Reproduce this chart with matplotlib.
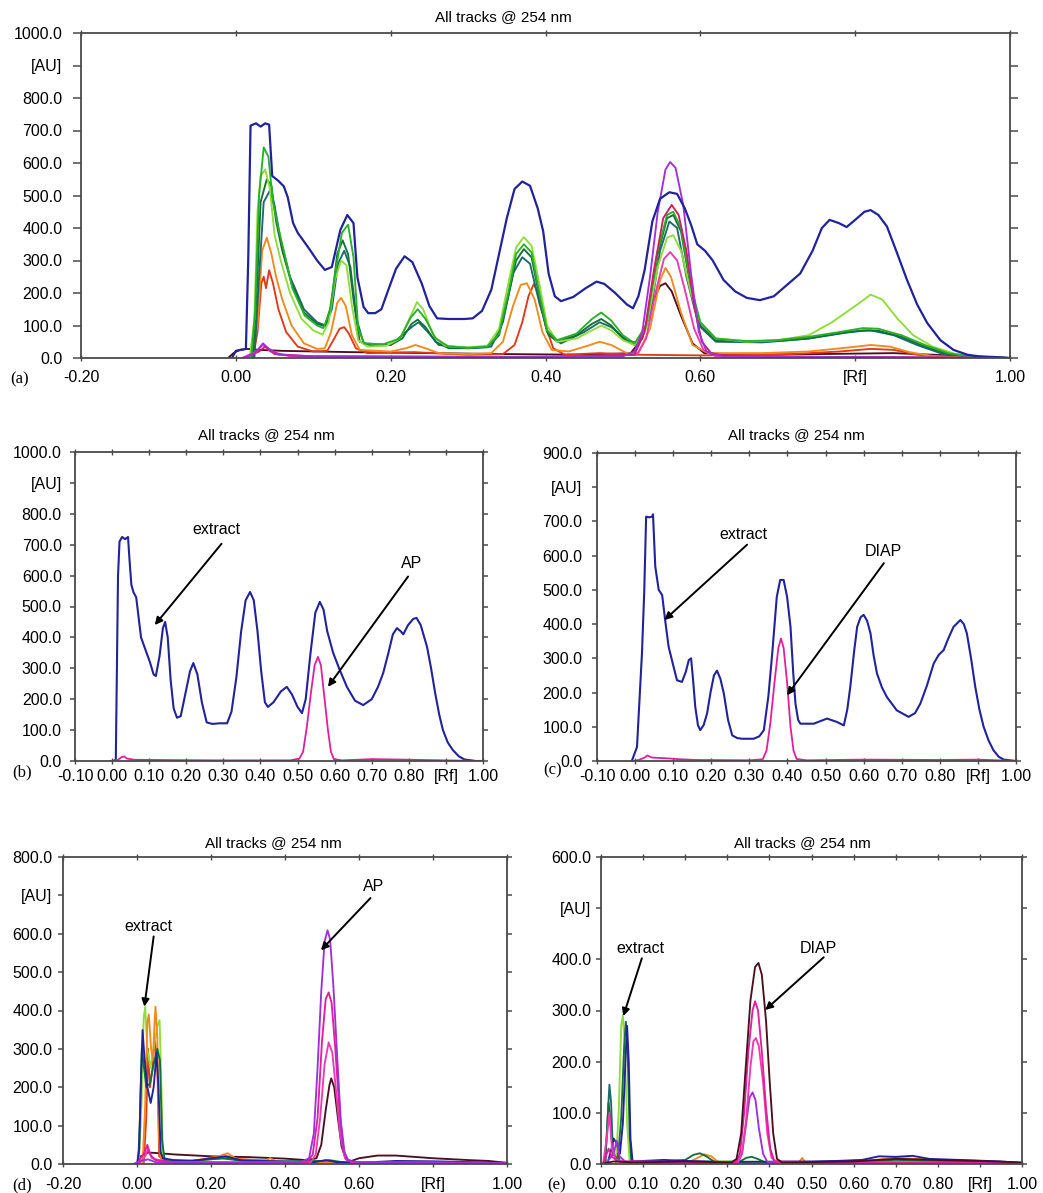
import matplotlib
matplotlib.use("Agg")
import matplotlib.pyplot as plt

plt.rcParams['font.family'] = ['Liberation Sans', 'DejaVu Sans']

# ---------------- data: (Rf, AU) points ----------------
# panel (a): all tracks
a_navy = [(-0.005, 0), (0.000, 22), (0.013, 28), (0.016, 300), (0.019, 715), (0.026, 722), (0.032, 712),
          (0.038, 722), (0.043, 718), (0.047, 560), (0.055, 545), (0.062, 528), (0.067, 495), (0.074, 415),
          (0.080, 385), (0.093, 342), (0.105, 300), (0.115, 271), (0.124, 280), (0.135, 394), (0.144, 440),
          (0.152, 415), (0.157, 249), (0.165, 157), (0.171, 138), (0.180, 138), (0.188, 150), (0.197, 210),
          (0.207, 275), (0.218, 313), (0.228, 295), (0.240, 230), (0.250, 160), (0.260, 122), (0.275, 120),
          (0.295, 120), (0.306, 122), (0.318, 145), (0.330, 210), (0.340, 320), (0.350, 430), (0.360, 520),
          (0.370, 543), (0.380, 530), (0.390, 460), (0.397, 390), (0.404, 260), (0.412, 190), (0.420, 175),
          (0.436, 188), (0.452, 215), (0.466, 235), (0.476, 228), (0.490, 200), (0.505, 165), (0.513, 153),
          (0.520, 190), (0.528, 270), (0.538, 420), (0.548, 490), (0.560, 510), (0.570, 505), (0.580, 460),
          (0.588, 410), (0.596, 350), (0.606, 330), (0.616, 300), (0.630, 240), (0.645, 205), (0.660, 185),
          (0.677, 178), (0.695, 190), (0.712, 225), (0.729, 260), (0.745, 330), (0.757, 400), (0.767, 425),
          (0.779, 415), (0.789, 403), (0.800, 425), (0.812, 450), (0.820, 455), (0.830, 440), (0.841, 405),
          (0.853, 330), (0.867, 240), (0.880, 165), (0.893, 108), (0.910, 55), (0.927, 25), (0.945, 10),
          (0.960, 5), (0.980, 3), (1.000, 0)]
a_lime = [(0.018, 0), (0.024, 120), (0.028, 450), (0.032, 560), (0.038, 580), (0.044, 520), (0.050, 380),
          (0.058, 300), (0.070, 200), (0.085, 120), (0.100, 85), (0.112, 72), (0.120, 110), (0.128, 240),
          (0.136, 300), (0.143, 285), (0.150, 160), (0.158, 55), (0.170, 35), (0.195, 38), (0.212, 60),
          (0.226, 130), (0.234, 172), (0.242, 150), (0.255, 70), (0.270, 38), (0.300, 32), (0.325, 38),
          (0.340, 90), (0.352, 230), (0.362, 340), (0.372, 372), (0.382, 345), (0.392, 230), (0.402, 100),
          (0.415, 50), (0.440, 60), (0.460, 85), (0.472, 100), (0.485, 85), (0.500, 55), (0.515, 40),
          (0.530, 90), (0.545, 280), (0.557, 370), (0.565, 378), (0.575, 330), (0.588, 200), (0.600, 110),
          (0.620, 60), (0.660, 50), (0.700, 55), (0.740, 70), (0.770, 110), (0.800, 160), (0.820, 195),
          (0.835, 180), (0.855, 120), (0.875, 70), (0.900, 35), (0.930, 12), (0.960, 4), (1.000, 0)]
a_green = [(0.020, 0), (0.025, 150), (0.030, 500), (0.036, 648), (0.042, 620), (0.048, 480), (0.055, 400),
           (0.062, 330), (0.073, 215), (0.089, 130), (0.105, 100), (0.113, 92), (0.121, 140), (0.129, 270),
           (0.137, 385), (0.145, 410), (0.152, 310), (0.158, 90), (0.166, 45), (0.190, 42), (0.212, 60),
           (0.226, 125), (0.235, 150), (0.245, 120), (0.258, 60), (0.275, 35), (0.300, 32), (0.325, 35),
           (0.340, 75), (0.352, 200), (0.362, 320), (0.372, 350), (0.382, 325), (0.392, 200), (0.402, 85),
           (0.415, 55), (0.440, 75), (0.460, 120), (0.472, 140), (0.485, 115), (0.500, 70), (0.515, 45),
           (0.530, 100), (0.545, 330), (0.557, 440), (0.565, 450), (0.575, 400), (0.588, 220), (0.600, 110),
           (0.620, 60), (0.660, 52), (0.700, 55), (0.740, 65), (0.780, 80), (0.810, 92), (0.830, 90),
           (0.860, 70), (0.890, 40), (0.920, 15), (0.950, 5), (1.000, 0)]
a_dkgreen = [(0.022, 0), (0.027, 200), (0.032, 480), (0.040, 550), (0.046, 530), (0.052, 420), (0.060, 330),
             (0.072, 230), (0.088, 140), (0.105, 105), (0.115, 98), (0.123, 160), (0.131, 320), (0.138, 362),
             (0.145, 320), (0.152, 180), (0.160, 50), (0.175, 38), (0.200, 40), (0.215, 60), (0.227, 105),
             (0.235, 118), (0.245, 95), (0.258, 50), (0.275, 30), (0.300, 30), (0.325, 33), (0.340, 70),
             (0.352, 190), (0.362, 300), (0.372, 335), (0.382, 310), (0.392, 190), (0.402, 80), (0.415, 50),
             (0.440, 70), (0.460, 105), (0.472, 120), (0.485, 100), (0.500, 60), (0.515, 40), (0.530, 100),
             (0.545, 320), (0.557, 430), (0.565, 440), (0.575, 390), (0.588, 210), (0.600, 100), (0.620, 55),
             (0.660, 50), (0.700, 52), (0.740, 60), (0.780, 75), (0.810, 85), (0.830, 84), (0.860, 65),
             (0.890, 35), (0.920, 12), (0.950, 4), (1.000, 0)]
a_teal = [(0.024, 0), (0.030, 250), (0.036, 480), (0.044, 515), (0.050, 470), (0.058, 360), (0.070, 250),
          (0.088, 150), (0.105, 110), (0.116, 100), (0.124, 150), (0.132, 290), (0.140, 330), (0.148, 280),
          (0.156, 120), (0.165, 45), (0.200, 40), (0.227, 95), (0.236, 110), (0.248, 80), (0.262, 40),
          (0.300, 30), (0.330, 35), (0.345, 110), (0.358, 260), (0.370, 310), (0.380, 290), (0.392, 170),
          (0.404, 70), (0.420, 45), (0.450, 80), (0.470, 110), (0.485, 95), (0.505, 55), (0.520, 45),
          (0.535, 130), (0.548, 330), (0.560, 420), (0.570, 400), (0.582, 250), (0.598, 100), (0.620, 50),
          (0.680, 48), (0.740, 60), (0.790, 80), (0.820, 85), (0.850, 70), (0.880, 40), (0.910, 15),
          (0.950, 3), (1.000, 0)]
a_orange = [(0.020, 0), (0.028, 100), (0.034, 330), (0.040, 370), (0.046, 320), (0.052, 250), (0.060, 180),
            (0.072, 100), (0.088, 45), (0.105, 28), (0.115, 30), (0.123, 80), (0.131, 170), (0.136, 185),
            (0.142, 160), (0.150, 70), (0.160, 25), (0.200, 20), (0.220, 30), (0.232, 40), (0.245, 30),
            (0.262, 15), (0.300, 12), (0.330, 15), (0.345, 50), (0.358, 160), (0.368, 225), (0.376, 230),
            (0.386, 180), (0.396, 80), (0.408, 25), (0.430, 20), (0.455, 38), (0.470, 50), (0.485, 40),
            (0.505, 15), (0.520, 15), (0.535, 90), (0.548, 240), (0.555, 277), (0.562, 250), (0.575, 140),
            (0.590, 40), (0.610, 15), (0.680, 15), (0.740, 20), (0.790, 32), (0.820, 40), (0.845, 35),
            (0.870, 18), (0.900, 6), (0.950, 2), (1.000, 0)]
a_red = [(0.022, 0), (0.028, 80), (0.033, 230), (0.036, 250), (0.039, 215), (0.043, 270), (0.048, 230),
         (0.055, 150), (0.065, 80), (0.080, 35), (0.100, 20), (0.118, 22), (0.126, 55), (0.134, 90),
         (0.140, 95), (0.146, 75), (0.155, 30), (0.170, 15), (0.230, 18), (0.300, 10), (0.345, 12),
         (0.360, 40), (0.370, 110), (0.378, 190), (0.385, 228), (0.392, 190), (0.400, 100), (0.410, 30),
         (0.425, 10), (0.470, 15), (0.520, 10), (0.600, 8), (0.700, 10), (0.780, 20), (0.820, 28),
         (0.850, 25), (0.880, 10), (0.920, 2), (1.000, 0)]
a_violet = [(0.010, 0), (0.025, 15), (0.035, 45), (0.042, 30), (0.055, 10), (0.100, 5), (0.300, 3),
            (0.500, 5), (0.515, 20), (0.525, 80), (0.535, 250), (0.545, 450), (0.555, 580), (0.561, 603),
            (0.568, 585), (0.578, 470), (0.588, 260), (0.598, 80), (0.608, 20), (0.630, 5), (1.000, 0)]
a_crimson = [(0.010, 0), (0.030, 20), (0.038, 35), (0.050, 12), (0.100, 5), (0.400, 3), (0.515, 10),
             (0.528, 80), (0.540, 270), (0.552, 430), (0.563, 471), (0.572, 440), (0.582, 330), (0.592, 160),
             (0.602, 50), (0.615, 12), (0.650, 5), (1.000, 0)]
a_pink = [(0.008, 0), (0.025, 18), (0.035, 40), (0.045, 20), (0.070, 5), (0.400, 3), (0.518, 10),
          (0.530, 60), (0.542, 200), (0.553, 305), (0.561, 326), (0.570, 300), (0.580, 210), (0.592, 90),
          (0.604, 25), (0.620, 5), (1.000, 0)]
a_maroon = [(-0.010, 0), (-0.003, 15), (0.005, 25), (0.015, 28), (0.030, 25), (0.060, 22), (0.150, 18),
            (0.250, 15), (0.350, 12), (0.450, 10), (0.510, 15), (0.525, 60), (0.538, 170), (0.548, 222),
            (0.555, 230), (0.563, 205), (0.575, 130), (0.590, 45), (0.605, 15), (0.650, 10), (0.750, 12),
            (0.850, 15), (0.900, 10), (0.950, 5), (1.000, 0)]

# panel (b): extract vs AP
b_navy = [(0.005, 0), (0.010, 5), (0.013, 300), (0.016, 600), (0.020, 710), (0.027, 725), (0.035, 718),
          (0.043, 725), (0.047, 650), (0.052, 570), (0.058, 545), (0.065, 530), (0.072, 460), (0.078, 400),
          (0.090, 360), (0.102, 320), (0.112, 280), (0.118, 275), (0.128, 340), (0.137, 430), (0.143, 450),
          (0.150, 400), (0.158, 260), (0.166, 170), (0.175, 140), (0.185, 145), (0.198, 220), (0.210, 290),
          (0.219, 317), (0.230, 280), (0.242, 190), (0.255, 125), (0.270, 120), (0.290, 122), (0.310, 122),
          (0.322, 160), (0.335, 270), (0.348, 420), (0.360, 520), (0.372, 547), (0.382, 520), (0.392, 420),
          (0.402, 290), (0.412, 190), (0.420, 175), (0.435, 190), (0.455, 225), (0.471, 240), (0.485, 215),
          (0.500, 175), (0.512, 155), (0.522, 200), (0.535, 350), (0.548, 480), (0.560, 515), (0.570, 490),
          (0.580, 420), (0.596, 350), (0.612, 300), (0.633, 240), (0.655, 195), (0.677, 181), (0.700, 200),
          (0.717, 240), (0.731, 285), (0.745, 350), (0.757, 410), (0.768, 430), (0.778, 420), (0.785, 410),
          (0.798, 440), (0.812, 460), (0.821, 463), (0.832, 440), (0.849, 370), (0.860, 300), (0.871, 220),
          (0.882, 150), (0.892, 100), (0.905, 60), (0.919, 35), (0.935, 15), (0.950, 5), (0.980, 0),
          (1.000, 0)]
b_magenta = [(-0.005, 0), (0.015, 3), (0.025, 12), (0.032, 15), (0.040, 8), (0.060, 4), (0.150, 3),
             (0.300, 2), (0.480, 2), (0.505, 8), (0.515, 30), (0.525, 110), (0.536, 220), (0.546, 310),
             (0.555, 337), (0.563, 310), (0.572, 210), (0.582, 100), (0.590, 30), (0.598, 6), (0.620, 2),
             (0.700, 6), (0.760, 5), (0.850, 3), (0.950, 1), (1.000, 0)]

# panel (c): extract vs DIAP
c_navy = [(-0.008, 2), (0.005, 41), (0.018, 314), (0.024, 495), (0.029, 714), (0.037, 712), (0.045, 714),
          (0.047, 721), (0.053, 568), (0.062, 500), (0.071, 485), (0.080, 402), (0.088, 334), (0.100, 280),
          (0.110, 236), (0.123, 231), (0.133, 260), (0.141, 295), (0.147, 300), (0.152, 240), (0.158, 158),
          (0.165, 105), (0.171, 90), (0.180, 105), (0.189, 139), (0.198, 200), (0.207, 250), (0.215, 264),
          (0.224, 240), (0.233, 197), (0.244, 120), (0.255, 75), (0.268, 67), (0.281, 65), (0.311, 65),
          (0.326, 72), (0.338, 90), (0.350, 190), (0.360, 314), (0.372, 480), (0.381, 529), (0.390, 529),
          (0.399, 480), (0.408, 392), (0.415, 260), (0.421, 168), (0.428, 120), (0.434, 109), (0.469, 109),
          (0.504, 124), (0.530, 114), (0.548, 104), (0.557, 150), (0.565, 217), (0.575, 320), (0.583, 392),
          (0.592, 420), (0.600, 427), (0.609, 410), (0.618, 373), (0.626, 310), (0.635, 256), (0.648, 215),
          (0.661, 187), (0.687, 148), (0.718, 129), (0.735, 140), (0.749, 168), (0.766, 220), (0.784, 285),
          (0.797, 310), (0.810, 324), (0.823, 360), (0.836, 392), (0.854, 412), (0.863, 400), (0.871, 373),
          (0.882, 300), (0.893, 217), (0.904, 150), (0.915, 100), (0.928, 60), (0.941, 31), (0.955, 12),
          (0.968, 4), (1.000, 0)]
c_magenta = [(-0.005, 0), (0.010, 3), (0.025, 10), (0.032, 16), (0.045, 10), (0.080, 8), (0.120, 5),
             (0.160, 3), (0.300, 2), (0.335, 5), (0.345, 30), (0.355, 110), (0.366, 230), (0.376, 330),
             (0.383, 358), (0.390, 330), (0.399, 230), (0.408, 100), (0.416, 30), (0.424, 6), (0.450, 2),
             (0.600, 4), (0.800, 3), (0.900, 4), (1.000, 0)]

# panel (d): AP tracks
d_violet = [(-0.010, 0), (0.010, 8), (0.030, 12), (0.050, 5), (0.100, 3), (0.300, 3), (0.440, 4),
            (0.465, 15), (0.478, 80), (0.488, 250), (0.498, 450), (0.507, 580), (0.515, 609), (0.522, 585),
            (0.531, 460), (0.541, 280), (0.551, 110), (0.561, 30), (0.572, 8), (0.600, 4), (0.800, 5),
            (1.000, 2)]
d_magenta = [(0.000, 0), (0.020, 30), (0.028, 50), (0.035, 25), (0.050, 10), (0.100, 5), (0.300, 4),
             (0.460, 5), (0.475, 25), (0.488, 120), (0.500, 320), (0.510, 430), (0.518, 447), (0.526, 420),
             (0.536, 300), (0.547, 140), (0.558, 35), (0.570, 8), (0.600, 4), (1.000, 2)]
d_pink = [(0.005, 0), (0.022, 20), (0.030, 40), (0.040, 15), (0.080, 5), (0.300, 4), (0.470, 5),
          (0.483, 25), (0.495, 120), (0.507, 260), (0.518, 317), (0.528, 290), (0.538, 190), (0.550, 70),
          (0.562, 15), (0.580, 4), (1.000, 2)]
d_maroon = [(0.000, 0), (0.010, 20), (0.030, 30), (0.060, 28), (0.100, 25), (0.200, 20), (0.300, 18),
            (0.400, 14), (0.460, 10), (0.485, 15), (0.498, 50), (0.510, 140), (0.520, 205), (0.525, 223),
            (0.533, 200), (0.543, 120), (0.553, 45), (0.565, 12), (0.580, 8), (0.600, 15), (0.650, 22),
            (0.700, 22), (0.800, 15), (0.900, 10), (0.950, 8), (1.000, 3)]
d_navy = [(0.000, 0), (0.006, 40), (0.010, 200), (0.015, 349), (0.020, 280), (0.028, 200), (0.037, 159),
          (0.045, 200), (0.053, 290), (0.058, 200), (0.064, 30), (0.070, 15), (0.100, 10), (0.150, 8),
          (0.200, 15), (0.240, 20), (0.280, 10), (0.400, 6), (0.480, 5), (0.510, 10), (0.540, 5),
          (0.600, 3), (0.700, 8), (0.800, 7), (1.000, 3)]
d_lime = [(0.005, 0), (0.012, 150), (0.018, 380), (0.022, 409), (0.028, 300), (0.036, 250), (0.045, 300),
          (0.055, 360), (0.061, 375), (0.066, 200), (0.070, 20), (0.080, 5), (0.150, 5), (0.220, 18),
          (0.250, 22), (0.280, 8), (0.500, 5), (1.000, 2)]
d_dkgreen = [(0.003, 0), (0.008, 120), (0.013, 300), (0.018, 260), (0.025, 200), (0.035, 210), (0.045, 260),
             (0.055, 300), (0.062, 270), (0.068, 60), (0.075, 10), (0.150, 8), (0.230, 15), (0.300, 6),
             (0.500, 8), (0.520, 10), (0.560, 4), (1.000, 2)]
d_orange = [(0.015, 0), (0.022, 150), (0.028, 370), (0.032, 390), (0.038, 300), (0.043, 270), (0.047, 360),
            (0.050, 410), (0.055, 330), (0.060, 60), (0.065, 10), (0.150, 8), (0.220, 20), (0.245, 28),
            (0.270, 12), (0.350, 10), (0.360, 15), (0.380, 5), (0.600, 3), (1.000, 2)]
d_red = [(0.018, 0), (0.025, 120), (0.030, 300), (0.035, 200), (0.042, 250), (0.048, 330), (0.055, 250),
         (0.060, 20), (0.080, 5), (0.240, 15), (0.400, 5), (1.000, 2)]

# panel (e): DIAP tracks
e_maroon = [(0.000, 0), (0.030, 5), (0.080, 3), (0.200, 5), (0.310, 3), (0.322, 10), (0.333, 60),
            (0.343, 180), (0.355, 320), (0.366, 385), (0.374, 393), (0.382, 370), (0.392, 280), (0.400, 170),
            (0.409, 60), (0.418, 10), (0.430, 3), (0.600, 5), (0.700, 10), (0.800, 8), (0.900, 6), (1.000, 3)]
e_magenta = [(0.005, 0), (0.018, 30), (0.025, 15), (0.040, 5), (0.320, 3), (0.330, 20), (0.340, 100),
             (0.350, 220), (0.360, 300), (0.366, 318), (0.373, 300), (0.382, 220), (0.392, 110), (0.402, 30),
             (0.412, 5), (0.600, 3), (1.000, 2)]
e_pink = [(0.005, 0), (0.015, 60), (0.020, 100), (0.026, 30), (0.035, 10), (0.045, 5), (0.325, 3),
          (0.335, 20), (0.345, 90), (0.355, 190), (0.362, 240), (0.368, 246), (0.375, 230), (0.385, 160),
          (0.395, 60), (0.405, 12), (0.420, 3), (1.000, 2)]
e_violet = [(0.010, 0), (0.030, 20), (0.037, 45), (0.044, 15), (0.060, 3), (0.325, 3), (0.335, 20),
            (0.345, 80), (0.353, 130), (0.360, 140), (0.367, 125), (0.375, 70), (0.385, 20), (0.395, 4),
            (1.000, 2)]
e_teal = [(0.010, 0), (0.015, 80), (0.020, 155), (0.024, 120), (0.028, 30), (0.035, 10), (0.040, 20),
          (0.045, 5), (0.100, 3), (1.000, 2)]
e_lime = [(0.035, 0), (0.042, 100), (0.048, 270), (0.052, 291), (0.056, 240), (0.062, 80), (0.068, 5),
          (0.200, 5), (1.000, 2)]
e_green = [(0.010, 0), (0.018, 120), (0.022, 90), (0.028, 20), (0.040, 10), (0.048, 90), (0.055, 230),
           (0.059, 278), (0.063, 230), (0.068, 60), (0.072, 5), (0.150, 5), (0.200, 8), (0.220, 18),
           (0.235, 21), (0.250, 15), (0.270, 4), (0.330, 5), (0.345, 12), (0.358, 14), (0.372, 10),
           (0.390, 3), (0.600, 5), (0.700, 8), (1.000, 2)]
e_navy = [(0.015, 0), (0.025, 30), (0.030, 50), (0.037, 40), (0.045, 20), (0.052, 80), (0.058, 200),
          (0.062, 270), (0.066, 200), (0.070, 50), (0.075, 5), (0.150, 8), (0.200, 6), (0.300, 4),
          (0.500, 5), (0.560, 6), (0.620, 8), (0.660, 15), (0.700, 14), (0.740, 16), (0.780, 10),
          (0.850, 8), (0.950, 5), (1.000, 2)]
e_orange = [(0.200, 0), (0.225, 10), (0.245, 19), (0.262, 15), (0.280, 3), (0.470, 3), (0.478, 12),
            (0.485, 3), (0.650, 8), (0.700, 12), (0.800, 8), (1.000, 2)]

# axis ticks
rf_ticks_wide = [-0.2, 0.0, 0.2, 0.4, 0.6, 0.8, 1.0]
rf_ticks_b = [-0.1, 0.0, 0.1, 0.2, 0.3, 0.4, 0.5, 0.6, 0.7, 0.8, 0.9, 1.0]
rf_ticks_e = [0.0, 0.1, 0.2, 0.3, 0.4, 0.5, 0.6, 0.7, 0.8, 0.9, 1.0]
au_max = {'a': 1000, 'b': 1000, 'c': 900, 'd': 800, 'e': 600}

# ---------------- colours ----------------
NAVY = '#22229a'
LIME = '#8fdc3a'
GREEN = '#28b028'
DKGREEN = '#13703a'
TEAL = '#1d6a6a'
ORANGE = '#f08a1c'
RED = '#e0381a'
VIOLET = '#a030d8'
CRIMSON = '#cc2060'
PINK = '#e83cb0'
MAROON = '#4a1020'
MAGENTA = '#e0209a'

W, H = 1043, 1193
fig = plt.figure(figsize=(W / 100, H / 100), dpi=100)


def box(l, t, r, b):
    return [l / W, 1 - b / H, (r - l) / W, (b - t) / H]


def draw(ax, curves, lw=1.35):
    for pts, col in curves:
        xs = [p[0] for p in pts]
        ys = [p[1] for p in pts]
        ax.plot(xs, ys, color=col, lw=lw, solid_joinstyle='round')


def setup(ax, xticks, xspecial, ymax, ylen, ypad, xpad):
    ax.set_xlim(xticks[0], 1.0)
    ax.set_ylim(0, ymax)
    ax.set_xticks(xticks)
    ax.set_xticklabels(['[Rf]' if abs(v - xspecial) < 1e-9 else '%.2f' % v for v in xticks])
    yt = list(range(0, ymax + 1, 100))
    ax.set_yticks(yt)
    ax.set_yticklabels(['[AU]' if v == ymax - 100 else '%.1f' % v for v in yt])
    for s in ax.spines.values():
        s.set_color('#4a4a4a')
        s.set_linewidth(1.3)
    ax.tick_params(axis='y', direction='out', length=ylen, width=1.1, color='#4a4a4a',
                   left=True, right=True, labelsize=11.5, pad=ypad)
    ax.tick_params(axis='x', direction='inout', length=4, width=1.0, color='#4a4a4a',
                   top=True, bottom=True, labelsize=11.5, pad=xpad)


def notes(ax, items):
    for label, tpos, start, tip in items:
        ax.text(tpos[0], tpos[1], label, ha='center', va='center', fontsize=11.5)
        ax.annotate('', xy=tip, xytext=start,
                    arrowprops=dict(arrowstyle='-|>', color='black', lw=1.4, mutation_scale=11,
                                    shrinkA=0, shrinkB=0))


# (a)
ax_a = fig.add_axes(box(81, 33, 1010, 358))
draw(ax_a, [(a_maroon, MAROON), (a_red, RED), (a_orange, ORANGE), (a_teal, TEAL), (a_dkgreen, DKGREEN),
            (a_lime, LIME), (a_green, GREEN), (a_pink, PINK), (a_crimson, CRIMSON), (a_violet, VIOLET)])
draw(ax_a, [(a_navy, NAVY)], lw=1.6)
setup(ax_a, rf_ticks_wide, 0.8, au_max['a'], 6, 7.5, 6.5)

# (b)
ax_b = fig.add_axes(box(75, 452, 483, 761))
draw(ax_b, [(b_navy, NAVY)], lw=1.5)
draw(ax_b, [(b_magenta, MAGENTA)], lw=1.3)
setup(ax_b, rf_ticks_b, 0.9, au_max['b'], 3.5, 6, 4)
notes(ax_b, [('extract', (0.282, 748), (0.295, 703), (0.115, 440)),
             ('AP', (0.807, 640), (0.798, 597), (0.582, 240))])

# (c)
ax_c = fig.add_axes(box(597, 453, 1016, 761))
draw(ax_c, [(c_navy, NAVY)], lw=1.5)
draw(ax_c, [(c_magenta, MAGENTA)], lw=1.3)
setup(ax_c, rf_ticks_b, 0.9, au_max['c'], 3.5, 7, 4)
notes(ax_c, [('extract', (0.285, 661), (0.294, 632), (0.077, 412)),
             ('DIAP', (0.653, 612), (0.653, 578), (0.399, 192))])

# (d)
ax_d = fig.add_axes(box(63, 857, 507, 1164))
draw(ax_d, [(d_maroon, MAROON), (d_red, RED), (d_lime, LIME), (d_orange, ORANGE), (d_dkgreen, DKGREEN),
            (d_navy, NAVY), (d_pink, PINK), (d_magenta, MAGENTA), (d_violet, VIOLET)])
setup(ax_d, rf_ticks_wide, 0.8, au_max['d'], 3.5, 4, 7.5)
notes(ax_d, [('extract', (0.032, 619), (0.045, 593), (0.020, 410)),
             ('AP', (0.640, 722), (0.631, 693), (0.497, 557))])

# (e)
ax_e = fig.add_axes(box(601, 857, 1022, 1164))
draw(ax_e, [(e_orange, ORANGE), (e_teal, TEAL), (e_lime, LIME), (e_green, DKGREEN), (e_navy, NAVY),
            (e_violet, VIOLET), (e_pink, PINK), (e_magenta, MAGENTA), (e_maroon, MAROON)])
setup(ax_e, rf_ticks_e, 0.9, au_max['e'], 3.5, 3.5, 7.5)
notes(ax_e, [('extract', (0.093, 422), (0.097, 402), (0.053, 289)),
             ('DIAP', (0.517, 421), (0.529, 404), (0.390, 301))])

# titles and panel letters
for cx, cy in [(503, 17), (266, 435), (796, 435), (273, 843), (802, 843)]:
    fig.text(cx / W, 1 - cy / H, 'All tracks @ 254 nm', ha='center', va='center', fontsize=11)
for lab, cx, cy in [('(a)', 20, 379), ('(b)', 22, 772), ('(c)', 553, 770), ('(d)', 22, 1185), ('(e)', 557, 1185)]:
    fig.text(cx / W, 1 - cy / H, lab, ha='center', va='center', fontsize=12, family='Liberation Serif')

fig.savefig('out.png', dpi=100)
